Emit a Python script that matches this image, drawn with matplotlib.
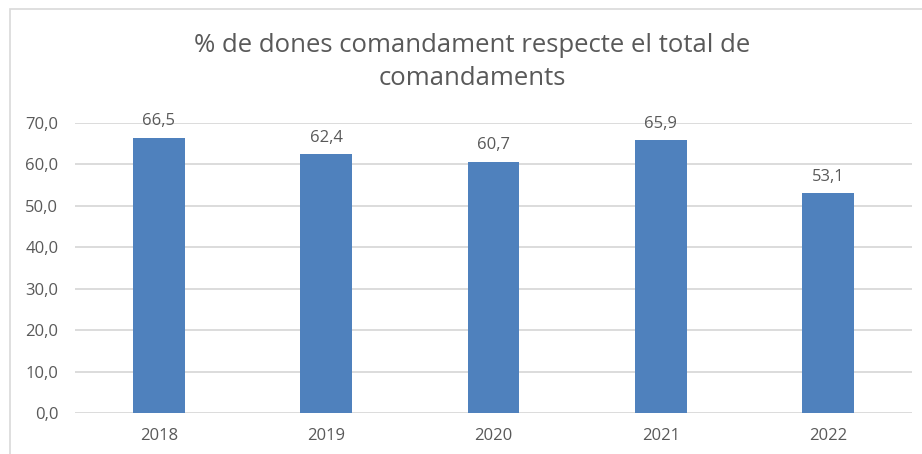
import matplotlib.pyplot as plt
from matplotlib.patches import Rectangle

plt.rcParams['font.family'] = ['Open Sans', 'DejaVu Sans']

anys = ['2018', '2019', '2020', '2021', '2022']
percentatge = [66.5, 62.4, 60.7, 65.9, 53.1]
yticks = [0, 10, 20, 30, 40, 50, 60, 70]

text_color = '#595959'
grid_color = '#D9D9D9'
bar_color = '#4F81BD'

fig = plt.figure(figsize=(9.22, 4.54), dpi=100)
ax = fig.add_axes([75 / 922, 1 - 413 / 454, 837 / 922, 290 / 454])

x = range(len(anys))
bars = ax.bar(x, percentatge, width=0.31, color=bar_color, zorder=3)
for b, v in zip(bars, percentatge):
    ax.text(b.get_x() + b.get_width() / 2, v + 2.0, f'{v:.1f}'.replace('.', ','),
            ha='center', va='bottom', fontsize=12, color=text_color)

ax.set_xlim(-0.5, len(anys) - 0.5)
ax.set_ylim(0, 70)
ax.set_yticks(yticks)
ax.set_yticklabels([f'{t:.1f}'.replace('.', ',') for t in yticks])
ax.set_xticks(list(x))
ax.set_xticklabels(anys)
ax.grid(axis='y', color=grid_color, linewidth=1.3, zorder=0)
ax.tick_params(length=0, labelsize=12, labelcolor=text_color)
ax.tick_params(axis='y', pad=12)
ax.tick_params(axis='x', pad=11)
for s in ax.spines.values():
    s.set_visible(False)

fig.text(472 / 922, 1 - 62 / 454, '% de dones comandament respecte el total de\ncomandaments',
         ha='center', va='center', fontsize=18.5, color=text_color, linespacing=1.42)

# marc del gràfic
fig.patches.append(Rectangle((10 / 922, -0.1), 1.2, 1 - 9 / 454 + 0.1, transform=fig.transFigure,
                             fill=False, edgecolor=grid_color, linewidth=1.2))

fig.savefig('out.png')
